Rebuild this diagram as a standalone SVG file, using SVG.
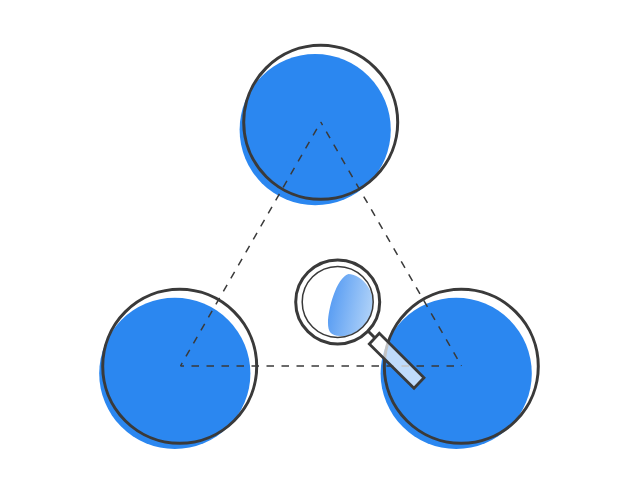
<svg xmlns="http://www.w3.org/2000/svg" width="639" height="499" viewBox="0 0 639 499">
<style>
.blob{fill:#2b87f0}
.ring{fill:none;stroke:#3a3a3a;stroke-width:3}
.dash{fill:none;stroke:#3a3a3a;stroke-width:1.5;stroke-dasharray:7.5 7.5;stroke-dashoffset:4}
.mag{stroke:#3a3a3a}
</style>
<defs><linearGradient id="lens" x1="0" y1="0" x2="1" y2="0.25"><stop offset="0" stop-color="#4c95f2"/><stop offset="1" stop-color="#a9cef8"/></linearGradient></defs>
<rect width="639" height="499" fill="#fff"/>
<g id="node-top"><circle class="blob" cx="315.200" cy="129.700" r="75.600"/><circle class="ring" cx="320.700" cy="122.300" r="77"/></g>
<g id="node-left"><circle class="blob" cx="174.800" cy="373.400" r="75.600"/><circle class="ring" cx="179.700" cy="366.300" r="77"/></g>
<g id="node-right"><circle class="blob" cx="456.200" cy="373.400" r="75.600"/><circle class="ring" cx="461.300" cy="366.300" r="77"/></g>
<g id="connectors"><path class="dash" d="M180.500 366L320.800 122"/><path class="dash" d="M320.800 122L461.500 366"/><path class="dash" d="M180.500 366H461.500"/></g>
<g id="magnifier">
<circle cx="337.700" cy="301.900" r="42" fill="#fff" class="mag" stroke-width="3"/>
<path d="M348.500 274C360 274 373 288 373 302C373 322 356 337 340 336C331 335.500 328 332 328 323C328 310 336 278 348.500 274Z" fill="url(#lens)"/>
<circle cx="337.700" cy="301.900" r="35.500" fill="none" class="mag" stroke-width="1.500"/>
<path d="M368 331L375 338" class="mag" stroke-width="3" fill="none"/>
<path d="M369.300 344L379.300 333.300L424 377.700L414 388.300Z" fill="#fff" fill-opacity=".7" class="mag" stroke-width="2.800"/>
</g>
</svg>
